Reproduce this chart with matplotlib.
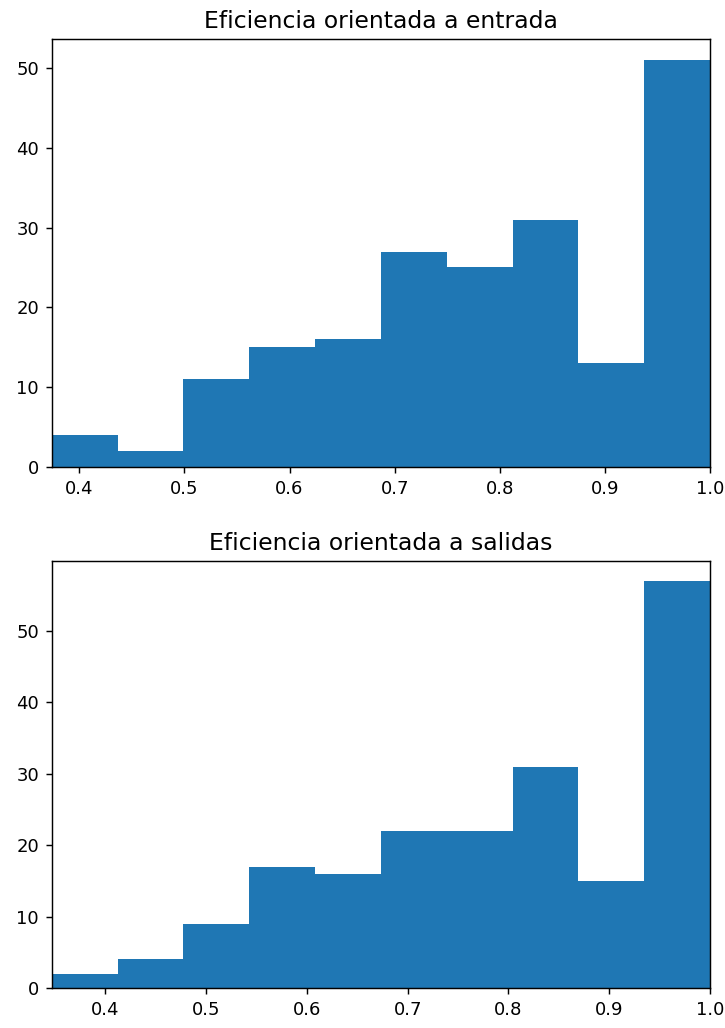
import numpy as np
import matplotlib
matplotlib.use('Agg')
import matplotlib.pyplot as plt

# histogram counts per bin (10 equal-width bins ending at 1.0)
entrada_counts = [4, 2, 11, 15, 16, 27, 25, 31, 13, 51]
entrada_min = 0.3737
salidas_counts = [2, 4, 9, 17, 16, 22, 22, 31, 15, 57]
salidas_min = 0.3468
eff_max = 1.0

titles = ['Eficiencia orientada a entrada', 'Eficiencia orientada a salidas']


def plot_hist(ax, counts, lo, hi, title):
    edges = np.linspace(lo, hi, len(counts) + 1)
    ax.hist(edges[:-1], bins=edges, weights=counts, color='#1f77b4')
    ax.set_xlim(edges[0], edges[-1])
    ax.set_ylim(0, max(counts) * 1.05)
    ax.set_title(title, fontsize=13)


def main():
    dpi = 130
    fig = plt.figure(figsize=(725 / dpi, 1028 / dpi), dpi=dpi)
    ax1 = fig.add_axes([0.0713, 0.5454, 0.908, 0.4164])
    ax2 = fig.add_axes([0.0713, 0.0389, 0.908, 0.4157])

    plot_hist(ax1, entrada_counts, entrada_min, eff_max, titles[0])
    plot_hist(ax2, salidas_counts, salidas_min, eff_max, titles[1])

    fig.savefig('out.png', dpi=dpi)


if __name__ == "__main__":
    main()
